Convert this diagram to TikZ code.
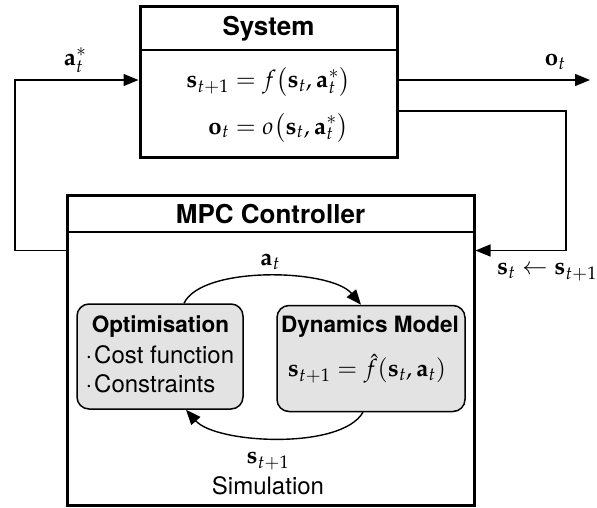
\documentclass[tikz,border=0pt]{standalone}
\usepackage[no-math]{fontspec}
\setsansfont{TeX Gyre Heros}
\usepackage{amsmath}
\usepackage{mathpazo}
\renewcommand\rmdefault{lmr}
\usetikzlibrary{arrows.meta,calc}

\tikzset{
  frame/.style={draw, line width=3pt, inner sep=0pt},
  headsep/.style={line width=2pt},
  wire/.style={line width=1.4pt},
  arr/.style={wire, -{Triangle[length=15pt,width=12pt]}},
  title/.style={font=\sffamily\bfseries\fontsize{26}{30}\selectfont},
  boxtitle/.style={font=\sffamily\bfseries\fontsize{22.5}{26}\selectfont},
  body/.style={font=\sffamily\fontsize{24}{28}\selectfont},
  eq/.style={font=\fontsize{24}{28}\selectfont, inner sep=1pt},
  block/.style={draw, line width=1.5pt, fill=gray!22, rounded corners=12pt, inner sep=0pt}
}

\begin{document}
\begin{tikzpicture}[x=1pt,y=-1pt]
\useasboundingbox (0,0) rectangle (597,507);

% ---------- plant ----------
\node[frame, minimum width=257pt, minimum height=151pt] (sys) at (268.5,81.5) {};
\draw[headsep] ($(sys.north west)+(0,45)$) -- ($(sys.north east)+(0,45)$);
\node[title] (systitle) at (268.5,29) {System};
\node[eq] (syseq) at (268.5,105)
  {$\begin{aligned}
     \mathbf{s}_{t+1} &= f\bigl(\mathbf{s}_t,\mathbf{a}^*_t\bigr)\\[12pt]
     \mathbf{o}_t &= o\bigl(\mathbf{s}_t,\mathbf{a}^*_t\bigr)
   \end{aligned}$};

% ---------- controller ----------
\node[frame, minimum width=407pt, minimum height=310pt] (mpc) at (270.5,350) {};
\draw[headsep] ($(mpc.north west)+(0,38)$) -- ($(mpc.north east)+(0,38)$);
\node[title] (mpctitle) at (270.5,214) {MPC Controller};

\node[block, minimum width=166pt, minimum height=105pt] (opt) at (160,356.5) {};
\node[boxtitle] (opttitle) at (160.5,327) {Optimisation};
\node[body, anchor=west] (cost) at (82,355) {·\kern2pt Cost function};
\node[body, anchor=west] (cons) at (82,384) {·\kern2pt Constraints};

\node[block, minimum width=188pt, minimum height=106pt] (dyn) at (371,358.5) {};
\node[boxtitle] (dyntitle) at (370,327) {Dynamics Model};
\node[eq] (dyneq) at (367,369) {$\mathbf{s}_{t+1} = \hat{f}(\mathbf{s}_t,\mathbf{a}_t)$};

% inner simulation loop
\draw[arr] ($(opt.north)+(24,0)$) .. controls +(18,-38) and +(-30,-36) .. ($(dyn.north)+(-10,0)$);
\node[eq] (lblat) at (270,262) {$\mathbf{a}_t$};
\draw[arr] ($(dyn.south)+(-8,0)$) .. controls +(-22,38) and +(30,34) .. ($(opt.south)+(26,0)$);
\node[eq] (lblsim) at (268,461) {$\mathbf{s}_{t+1}$};
\node[body] (simtext) at (268,486) {Simulation};

% ---------- outer loop ----------
\coordinate (acorner) at (15,80);
\coordinate (oend) at (590,80);
\coordinate (fbcorner) at (566,111);
\draw[arr] ($(mpc.north west)+(0,57)$) -| (acorner) -- (acorner -| sys.west);
\node[eq] (lblastar) at (75,60) {$\mathbf{a}^*_t$};
\draw[arr] (oend -| sys.east) -- (oend);
\node[eq] (lblot) at (555,62) {$\mathbf{o}_t$};
\draw[arr] (fbcorner -| sys.east) -- (fbcorner) |- ($(mpc.north east)+(0,57)$);
\node[eq] (lblfb) at (547,272) {$\mathbf{s}_t \leftarrow \mathbf{s}_{t+1}$};
\end{tikzpicture}
\end{document}
